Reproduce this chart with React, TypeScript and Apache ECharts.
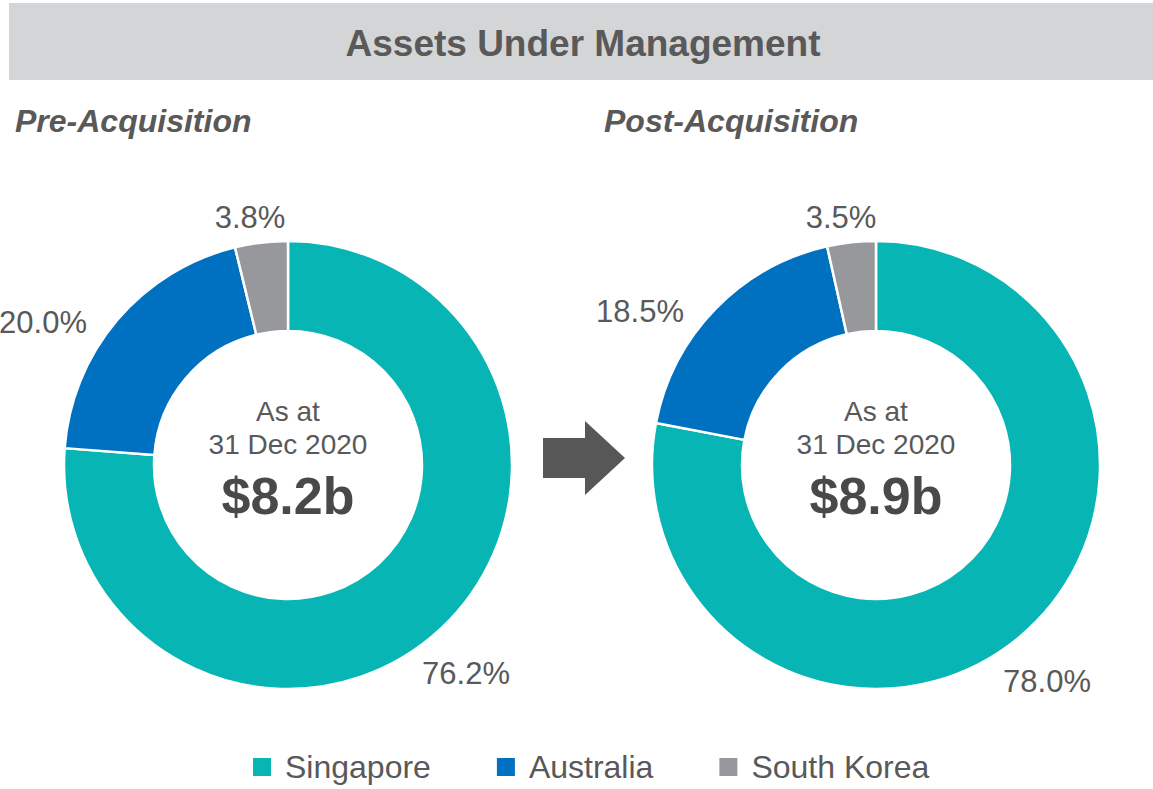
import React, { useEffect, useRef } from "react";
import * as echarts from "echarts";

const categories = ["Singapore", "Australia", "South Korea"];
const colors = ["#07B5B4", "#0070C0", "#97989C"];
const preValues = [76.2, 20.0, 3.8];
const postValues = [78.0, 18.5, 3.5];
const preTotal = "$8.2b";
const postTotal = "$8.9b";
const asAtLines = ["As at", "31 Dec 2020"];
const mainTitle = "Assets Under Management";
const subTitles = ["Pre-Acquisition", "Post-Acquisition"];

const FONT = "'Liberation Sans', Arial, sans-serif";
const TEXT = "#595959";

// label anchor points (layout only)
const preLabelPos = [[466, 673], [43, 322], [250, 217]];
const postLabelPos = [[1047, 681], [640, 311], [841, 217]];

function pieSeries(name: string, values: number[], center: number[], labelPos: number[][]) {
  return {
    type: "pie",
    name,
    center,
    radius: [134, 224],
    startAngle: 90,
    clockwise: true,
    avoidLabelOverlap: false,
    data: categories.map((c, i) => ({ name: c, value: values[i], itemStyle: { color: colors[i] } })),
    itemStyle: { borderColor: "#ffffff", borderWidth: 2.5 },
    label: {
      show: true,
      position: "outside",
      formatter: (p: any) => Number(p.value).toFixed(1) + "%",
      fontFamily: FONT,
      fontSize: 31,
      color: TEXT,
    },
    labelLine: { show: false },
    labelLayout: (p: any) => ({
      x: labelPos[p.dataIndex][0],
      y: labelPos[p.dataIndex][1],
      align: "center",
      verticalAlign: "middle",
    }),
    emphasis: { disabled: true },
  };
}

function centerTexts(cx: number, total: string) {
  return [
    { type: "text", x: cx, y: 411, style: { text: asAtLines[0], font: `28px ${FONT}`, fill: TEXT, align: "center", verticalAlign: "middle" } },
    { type: "text", x: cx, y: 444, style: { text: asAtLines[1], font: `28px ${FONT}`, fill: TEXT, align: "center", verticalAlign: "middle" } },
    { type: "text", x: cx, y: 496, style: { text: total, font: `bold 52px ${FONT}`, fill: "#48494B", align: "center", verticalAlign: "middle" } },
  ];
}

export default function App() {
  const ref = useRef<HTMLDivElement>(null);
  useEffect(() => {
    if (!ref.current) return;
    const chart = echarts.init(ref.current, null, { renderer: "svg" });
    chart.setOption({
      animation: false,
      backgroundColor: "#ffffff",
      graphic: [
        { type: "rect", z: -1, shape: { x: 9, y: 3, width: 1144, height: 77 }, style: { fill: "#D4D5D7" } },
        { type: "text", x: 583, y: 43, style: { text: mainTitle, font: `bold 37px ${FONT}`, fill: TEXT, align: "center", verticalAlign: "middle" } },
        { type: "text", x: 15, y: 121, style: { text: subTitles[0], font: `italic bold 32px ${FONT}`, fill: TEXT, align: "left", verticalAlign: "middle" } },
        { type: "text", x: 604, y: 121, style: { text: subTitles[1], font: `italic bold 32px ${FONT}`, fill: TEXT, align: "left", verticalAlign: "middle" } },
        ...centerTexts(288, preTotal),
        ...centerTexts(876, postTotal),
        { type: "rect", shape: { x: 543, y: 438, width: 43, height: 40 }, style: { fill: "#575757" } },
        { type: "polygon", shape: { points: [[585, 421], [625, 458], [585, 495]] }, style: { fill: "#575757" } },
      ],
      legend: {
        data: categories,
        left: 246,
        top: 746,
        icon: "rect",
        itemWidth: 20,
        itemHeight: 20,
        itemGap: 64,
        textStyle: { fontFamily: FONT, fontSize: 32, color: TEXT, padding: [0, 0, 0, 8] },
        selectedMode: false,
      },
      series: [
        pieSeries("Pre-Acquisition", preValues, [288, 465], preLabelPos),
        pieSeries("Post-Acquisition", postValues, [876, 465], postLabelPos),
      ],
    });
    return () => chart.dispose();
  }, []);
  return <div ref={ref} style={{ position: "absolute", left: 0, top: 0, width: 1153, height: 789 }} />;
}
